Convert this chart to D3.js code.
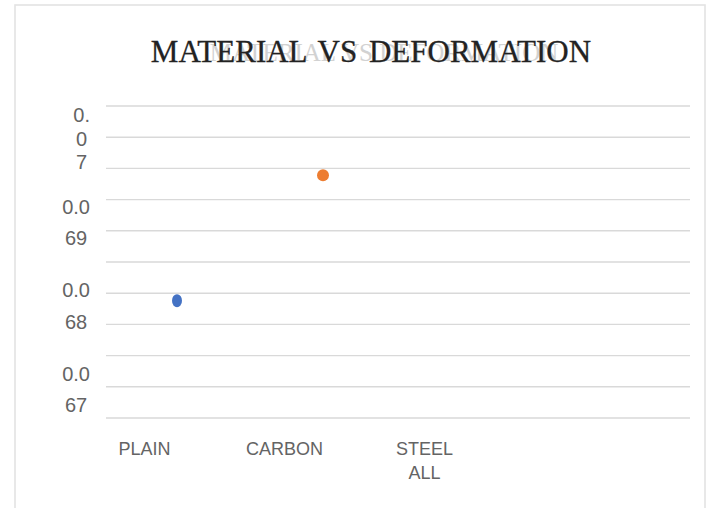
<!DOCTYPE html>
<html>
<head>
<meta charset="utf-8">
<script src="https://cdn.jsdelivr.net/npm/d3@7"></script>
<style>
  html, body { margin: 0; padding: 0; background: #ffffff; }
  svg { display: block; }
</style>
</head>
<body>
<svg id="chart" width="711" height="508"></svg>
<script>
// Materials on the category axis (last slot is an empty category)
const categories = ["PLAIN", "CARBON", "STEEL ALL", ""];
// Deformation measured for each material
const seriesNames = ["PLAIN", "CARBON"];
const seriesValues = [0.06806, 0.06956];
// Value-axis tick values and their wrapped label lines
const tickValues = [0.070, 0.069, 0.068, 0.067];
const tickLines = [["0.", "0", "7"], ["0.0", "69"], ["0.0", "68"], ["0.0", "67"]];
const xLabelLines = [["PLAIN"], ["CARBON"], ["STEEL", "ALL"], [""]];
const titleText = "MATERIAL VS DEFORMATION";

const svg = d3.select("#chart");
const plot = { left: 106, right: 690, top: 106, bottom: 418 };

// chart frame
svg.append("rect")
  .attr("x", 15).attr("y", 5)
  .attr("width", 690).attr("height", 520)
  .attr("fill", "#ffffff")
  .attr("stroke", "#e3e3e3").attr("stroke-width", 1.6);

// title with its faint duplicate behind
svg.append("text")
  .attr("x", 384).attr("y", 61)
  .attr("text-anchor", "middle")
  .attr("font-family", "'Liberation Serif', 'Times New Roman', serif")
  .attr("font-size", 25)
  .attr("fill", "#d2d2d2")
  .text(titleText);
svg.append("text")
  .attr("x", 371).attr("y", 62)
  .attr("text-anchor", "middle")
  .attr("font-family", "'Liberation Serif', 'Times New Roman', serif")
  .attr("font-size", 31)
  .attr("word-spacing", 4)
  .attr("fill", "#222222")
  .attr("stroke", "#222222").attr("stroke-width", 0.3)
  .text(titleText);

// scales
const y = d3.scaleLinear().domain([0.066656, 0.07039]).range([plot.bottom, plot.top]);
const x = d3.scaleBand().domain(categories).range([104, 688]);
const xLab = d3.scaleBand().domain(categories).range([74.5, 634.5]);
const color = d3.scaleOrdinal().domain(seriesNames).range(["#4472C4", "#ED7D31"]);

// horizontal gridlines, evenly dividing the value range
const [d0, d1] = y.domain();
const gridVals = d3.range(11).map(i => d0 + i * (d1 - d0) / 10);
svg.append("g").selectAll("line").data(gridVals).join("line")
  .attr("x1", plot.left).attr("x2", plot.right)
  .attr("y1", d => y(d)).attr("y2", d => y(d))
  .attr("stroke", "#d9d9d9").attr("stroke-width", 1.4);

// value-axis labels: wrapped lines, centred within a right-aligned block
const labelFont = "'Liberation Sans', Arial, sans-serif";
const yl = svg.append("g");
tickValues.forEach((v, i) => {
  const lines = tickLines[i];
  const gap = lines.length === 3 ? 23.5 : 31.5;
  const g = yl.append("g");
  const cy = y(v);
  const texts = g.selectAll("text").data(lines).join("text")
    .attr("y", (d, j) => cy + (j - (lines.length - 1) / 2) * gap)
    .attr("dy", "0.36em")
    .attr("text-anchor", "middle")
    .attr("font-family", labelFont)
    .attr("font-size", 20)
    .attr("fill", "#646464")
    .text(d => d);
  let wmax = 0;
  texts.each(function () { wmax = Math.max(wmax, this.getComputedTextLength()); });
  texts.attr("x", 90 - wmax / 2);
});

// category labels
const xl = svg.append("g");
categories.forEach((c, i) => {
  xl.append("g").selectAll("text").data(xLabelLines[i]).join("text")
    .attr("x", xLab(c) + xLab.bandwidth() / 2)
    .attr("y", (d, j) => 455 + j * 24)
    .attr("text-anchor", "middle")
    .attr("font-family", labelFont)
    .attr("font-size", 18)
    .attr("fill", "#646464")
    .text(d => d);
});

// data markers
svg.append("g").selectAll("ellipse")
  .data(seriesNames.map((n, i) => ({ name: n, value: seriesValues[i] })))
  .join("ellipse")
  .attr("cx", d => x(d.name) + x.bandwidth() / 2)
  .attr("cy", d => y(d.value))
  .attr("rx", d => d.name === "PLAIN" ? 5 : 6)
  .attr("ry", d => d.name === "PLAIN" ? 6.5 : 6)
  .attr("fill", d => color(d.name));
</script>
</body>
</html>
